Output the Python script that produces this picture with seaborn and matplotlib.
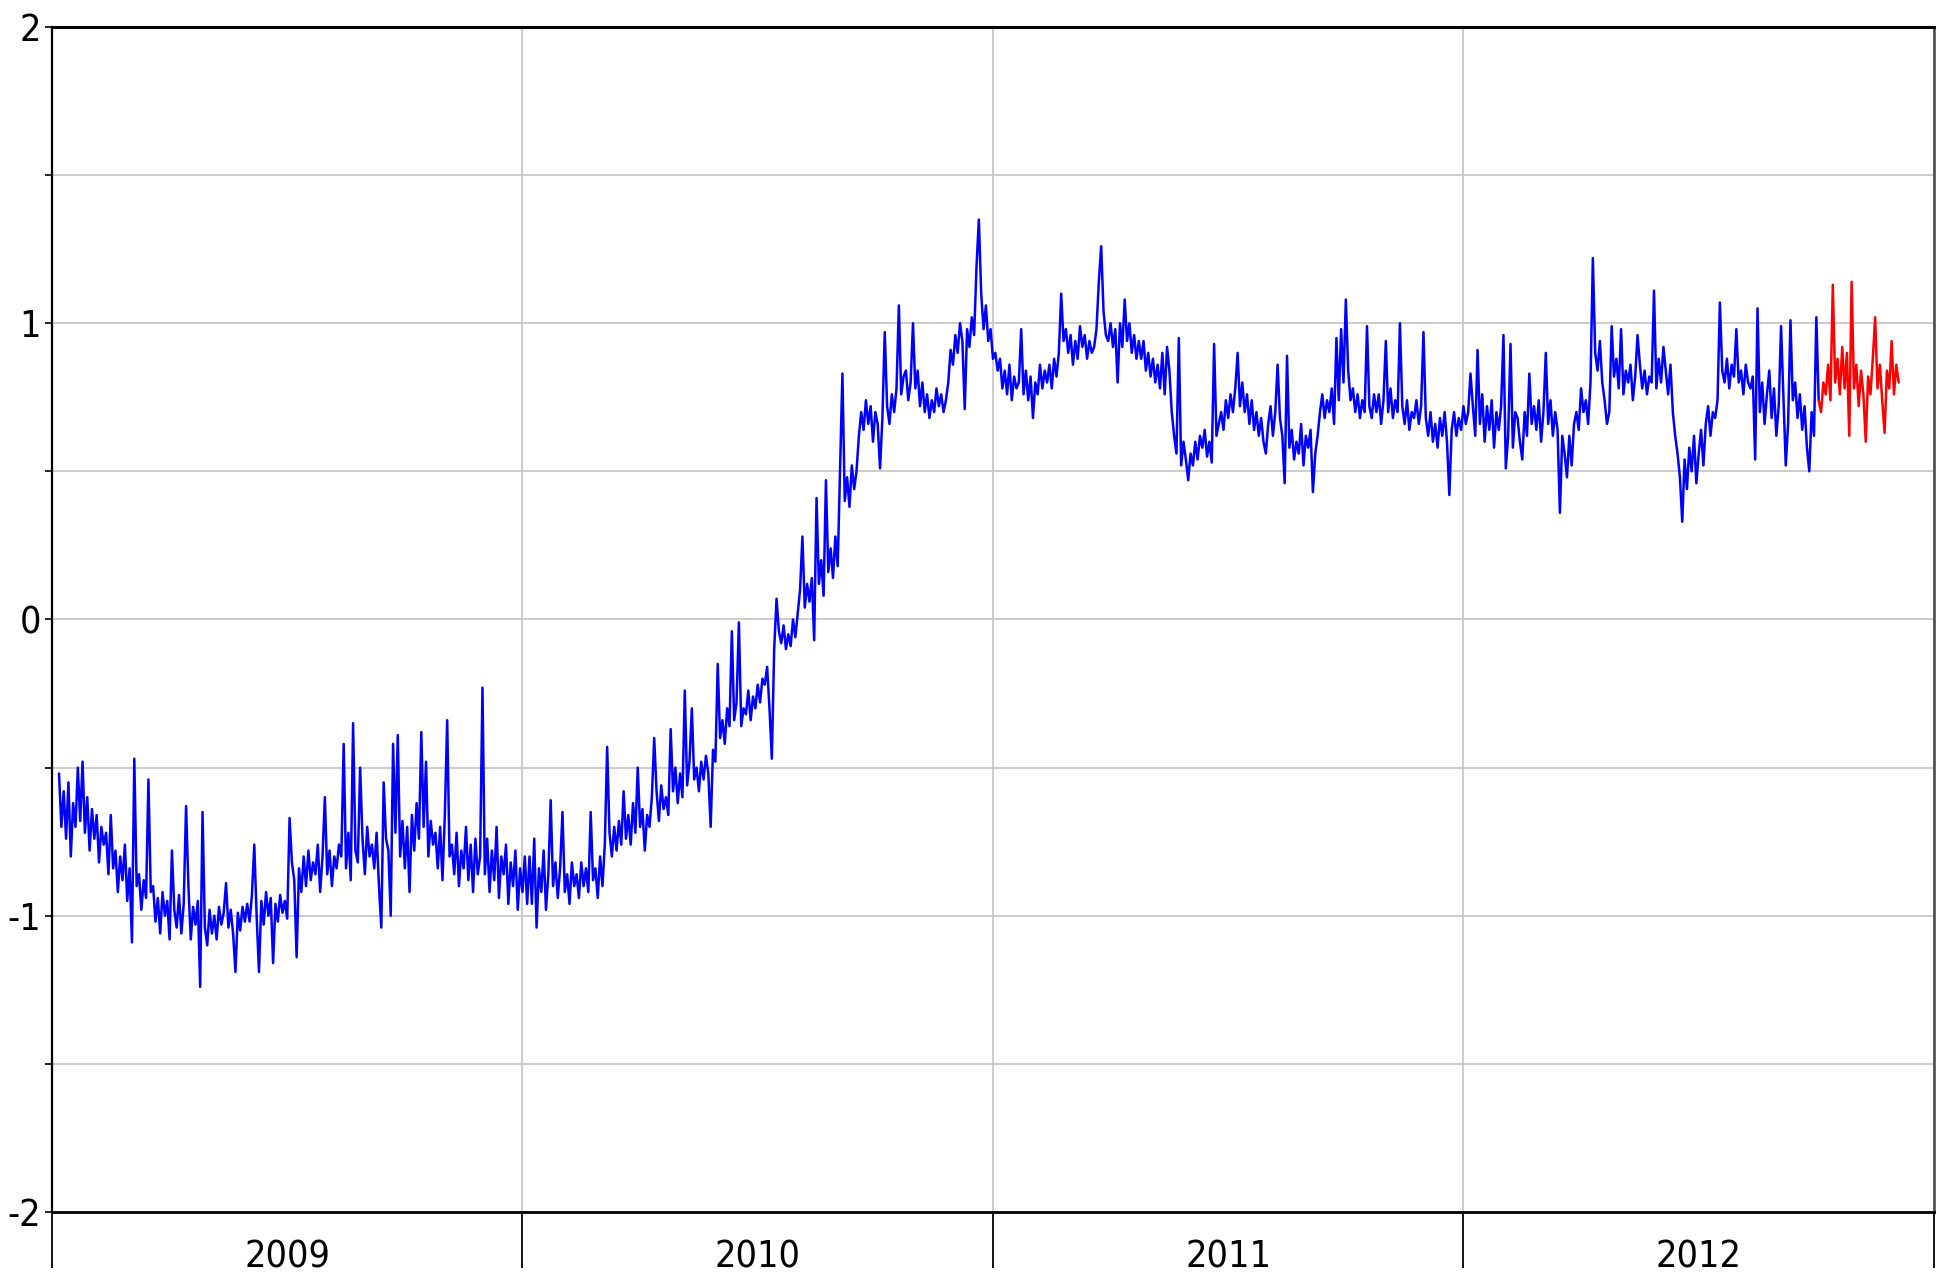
import numpy as np
import pandas as pd
import seaborn as sns
import matplotlib.pyplot as plt
from matplotlib.ticker import MultipleLocator, FixedLocator

# values, one point every 0.005 year
start = 2009.015
step = 0.005

blue_2009 = [
    -0.52, -0.70, -0.58, -0.74, -0.55, -0.80, -0.62, -0.70, -0.50, -0.68, -0.48, -0.72, -0.60, -0.78, -0.64, -0.74, -0.66, -0.82, -0.70, -0.76,
    -0.72, -0.86, -0.66, -0.84, -0.78, -0.92, -0.80, -0.88, -0.76, -0.95, -0.84, -1.09, -0.47, -0.90, -0.86, -0.98, -0.88, -0.94, -0.54, -0.92,
    -0.90, -1.02, -0.94, -1.06, -0.92, -1.00, -0.95, -1.08, -0.78, -0.98, -1.04, -0.93, -1.06, -0.96, -0.63, -0.90, -1.08, -0.97, -1.03, -0.95,
    -1.24, -0.65, -1.04, -1.10, -0.98, -1.06, -1.00, -1.08, -0.97, -1.03, -0.99, -0.89, -1.04, -0.98, -1.06, -1.19, -0.99, -1.05, -0.97, -1.02,
    -0.96, -1.02, -0.93, -0.76, -1.00, -1.19, -0.95, -1.03, -0.92, -1.00, -0.94, -1.16, -0.96, -1.02, -0.93, -0.99, -0.95, -1.01, -0.67, -0.82,
    -0.88, -1.14, -0.84, -0.92, -0.80, -0.90, -0.78, -0.88, -0.82, -0.86, -0.76, -0.92, -0.80, -0.60, -0.86, -0.78, -0.90, -0.80, -0.84, -0.76,
    -0.80, -0.42, -0.84, -0.72, -0.88, -0.35, -0.78, -0.82, -0.50, -0.74, -0.86, -0.70, -0.80, -0.76, -0.84, -0.72, -0.90, -1.04, -0.55, -0.74,
    -0.78, -1.00, -0.42, -0.72, -0.39, -0.80, -0.68, -0.84, -0.70, -0.92, -0.66, -0.78, -0.62, -0.74, -0.38, -0.70, -0.48, -0.80, -0.68, -0.76,
    -0.72, -0.84, -0.70, -0.88, -0.66, -0.34, -0.80, -0.76, -0.86, -0.72, -0.90, -0.78, -0.84, -0.70, -0.88, -0.76, -0.92, -0.74, -0.86, -0.80,
    -0.23, -0.86, -0.74, -0.92, -0.78, -0.88, -0.70, -0.94, -0.80, -0.86, -0.76, -0.96, -0.82, -0.90, -0.78, -0.98, -0.84, -0.92, -0.80, -0.96,
]

blue_2010 = [
    -0.80, -0.96, -0.74, -1.04, -0.84, -0.92, -0.78, -0.98, -0.86, -0.61, -0.90, -0.82, -0.94, -0.84, -0.65, -0.92, -0.86, -0.96, -0.82, -0.90,
    -0.86, -0.94, -0.82, -0.90, -0.84, -0.92, -0.65, -0.88, -0.84, -0.94, -0.80, -0.90, -0.76, -0.43, -0.72, -0.80, -0.70, -0.78, -0.68, -0.76,
    -0.58, -0.74, -0.66, -0.76, -0.62, -0.72, -0.50, -0.70, -0.64, -0.78, -0.66, -0.70, -0.60, -0.40, -0.58, -0.68, -0.56, -0.64, -0.60, -0.66,
    -0.37, -0.58, -0.50, -0.62, -0.52, -0.60, -0.24, -0.56, -0.48, -0.30, -0.54, -0.50, -0.58, -0.48, -0.54, -0.46, -0.52, -0.70, -0.44, -0.48,
    -0.15, -0.40, -0.34, -0.42, -0.30, -0.36, -0.04, -0.34, -0.28, -0.01, -0.36, -0.30, -0.32, -0.24, -0.34, -0.26, -0.30, -0.22, -0.28, -0.20,
    -0.22, -0.16, -0.30, -0.47, -0.10, 0.07, -0.04, -0.08, -0.02, -0.10, -0.05, -0.09, 0.00, -0.06, 0.02, 0.10, 0.28, 0.04, 0.12, 0.06,
    0.14, -0.07, 0.41, 0.12, 0.20, 0.08, 0.47, 0.16, 0.24, 0.14, 0.28, 0.18, 0.51, 0.83, 0.40, 0.48, 0.38, 0.52, 0.44, 0.50,
    0.62, 0.70, 0.64, 0.74, 0.66, 0.72, 0.60, 0.70, 0.66, 0.51, 0.68, 0.97, 0.72, 0.66, 0.76, 0.70, 0.78, 1.06, 0.76, 0.82,
    0.84, 0.74, 0.80, 1.00, 0.78, 0.84, 0.72, 0.80, 0.70, 0.76, 0.68, 0.74, 0.70, 0.78, 0.72, 0.76, 0.70, 0.74, 0.80, 0.91,
    0.86, 0.96, 0.90, 1.00, 0.94, 0.71, 0.98, 0.92, 1.02, 0.96, 1.19, 1.35, 1.10, 0.98, 1.06, 0.94, 0.98, 0.88, 0.90, 0.84,
]

blue_2011 = [
    0.88, 0.78, 0.84, 0.76, 0.86, 0.74, 0.82, 0.78, 0.80, 0.98, 0.76, 0.84, 0.74, 0.82, 0.68, 0.80, 0.76, 0.86, 0.78, 0.84,
    0.80, 0.86, 0.78, 0.88, 0.82, 0.90, 1.10, 0.94, 0.98, 0.90, 0.96, 0.86, 0.94, 0.88, 0.99, 0.92, 0.96, 0.88, 0.94, 0.90,
    0.92, 0.98, 1.14, 1.26, 1.04, 0.96, 0.94, 1.00, 0.92, 0.98, 0.80, 1.00, 0.92, 1.08, 0.94, 1.00, 0.90, 0.96, 0.88, 0.94,
    0.88, 0.94, 0.84, 0.90, 0.82, 0.88, 0.80, 0.86, 0.78, 0.90, 0.76, 0.92, 0.84, 0.70, 0.62, 0.56, 0.95, 0.52, 0.60, 0.54,
    0.47, 0.56, 0.52, 0.60, 0.54, 0.62, 0.58, 0.64, 0.55, 0.60, 0.53, 0.93, 0.62, 0.66, 0.70, 0.64, 0.74, 0.68, 0.76, 0.70,
    0.78, 0.90, 0.72, 0.80, 0.70, 0.76, 0.66, 0.74, 0.64, 0.70, 0.62, 0.68, 0.60, 0.56, 0.66, 0.72, 0.62, 0.70, 0.86, 0.68,
    0.62, 0.46, 0.89, 0.58, 0.64, 0.54, 0.60, 0.56, 0.66, 0.52, 0.62, 0.58, 0.64, 0.43, 0.56, 0.62, 0.70, 0.76, 0.68, 0.74,
    0.70, 0.78, 0.66, 0.95, 0.74, 0.98, 0.80, 1.08, 0.84, 0.74, 0.78, 0.70, 0.76, 0.68, 0.74, 0.70, 0.99, 0.72, 0.68, 0.76,
    0.70, 0.76, 0.66, 0.74, 0.94, 0.70, 0.78, 0.68, 0.74, 0.70, 1.00, 0.72, 0.66, 0.74, 0.64, 0.70, 0.68, 0.74, 0.66, 0.72,
    0.97, 0.68, 0.62, 0.70, 0.60, 0.66, 0.58, 0.68, 0.62, 0.70, 0.60, 0.42, 0.64, 0.70, 0.62, 0.68, 0.64, 0.72, 0.66, 0.70,
]

blue_2012 = [
    0.83, 0.72, 0.62, 0.91, 0.66, 0.76, 0.60, 0.72, 0.64, 0.74, 0.58, 0.70, 0.64, 0.72, 0.96, 0.51, 0.62, 0.93, 0.58, 0.70,
    0.68, 0.60, 0.54, 0.70, 0.62, 0.83, 0.66, 0.72, 0.64, 0.74, 0.60, 0.70, 0.90, 0.66, 0.74, 0.62, 0.70, 0.64, 0.36, 0.62,
    0.56, 0.48, 0.62, 0.52, 0.66, 0.70, 0.64, 0.78, 0.70, 0.74, 0.66, 0.80, 1.22, 0.90, 0.84, 0.94, 0.80, 0.74, 0.66, 0.70,
    0.99, 0.82, 0.88, 0.78, 0.98, 0.76, 0.84, 0.80, 0.86, 0.74, 0.82, 0.96, 0.86, 0.78, 0.84, 0.76, 0.82, 0.80, 1.11, 0.78,
    0.88, 0.80, 0.92, 0.84, 0.76, 0.86, 0.70, 0.62, 0.56, 0.48, 0.33, 0.54, 0.44, 0.58, 0.50, 0.62, 0.46, 0.56, 0.64, 0.52,
    0.66, 0.72, 0.62, 0.70, 0.68, 0.74, 1.07, 0.84, 0.80, 0.88, 0.78, 0.86, 0.82, 0.98, 0.80, 0.84, 0.76, 0.86, 0.80, 0.78,
    0.82, 0.54, 1.05, 0.70, 0.80, 0.66, 0.76, 0.84, 0.68, 0.78, 0.62, 0.72, 0.99, 0.76, 0.52, 0.66, 1.01, 0.74, 0.80, 0.68,
    0.76, 0.64, 0.72, 0.58, 0.50, 0.70, 0.62, 1.02, 0.74,
]

# forecast part, drawn in red, starting at the last blue point
red_values = [
    0.74, 0.70, 0.80, 0.76, 0.86, 0.74, 1.13, 0.80, 0.88, 0.76, 0.92, 0.78, 0.90, 0.62, 1.14, 0.78, 0.86, 0.72,
    0.84, 0.76, 0.60, 0.82, 0.76, 0.88, 1.02, 0.78, 0.86, 0.74, 0.63, 0.84, 0.78, 0.94, 0.76, 0.86, 0.80,
]

years = [2009, 2010, 2011, 2012]

blue_values = blue_2009 + blue_2010 + blue_2011 + blue_2012
blue = pd.DataFrame({'year': start + step * np.arange(len(blue_values)), 'value': blue_values})
red_start = blue['year'].iloc[-1]
red = pd.DataFrame({'year': red_start + step * np.arange(len(red_values)), 'value': red_values})

sns.set_style('white')
plt.rcParams['font.family'] = ['DejaVu Sans']
plt.rcParams['font.stretch'] = 'condensed'
plt.rcParams['text.color'] = 'black'
plt.rcParams['xtick.color'] = 'black'
plt.rcParams['ytick.color'] = 'black'

fig = plt.figure(figsize=(19.39, 12.72), dpi=100)
ax = fig.add_axes([0.0268, 0.0472, 0.9706, 0.9316])

sns.lineplot(data=blue, x='year', y='value', color='#0000ff', linewidth=1.8,
             estimator=None, sort=False, ax=ax)
sns.lineplot(data=red, x='year', y='value', color='#ff0000', linewidth=1.8,
             estimator=None, sort=False, ax=ax)

ax.set_xlim(2009, 2013)
ax.set_ylim(-2, 2)
ax.set_xlabel('')
ax.set_ylabel('')

# y axis: labels on the integers, grid every 0.5
ax.yaxis.set_major_locator(FixedLocator([-2, -1, 0, 1, 2]))
ax.yaxis.set_minor_locator(MultipleLocator(0.5))
ax.set_yticklabels(['-2', '-1', '0', '1', '2'])
ax.tick_params(axis='y', which='both', direction='out', length=5, width=1.2,
               left=True, labelsize=27, pad=3, labelcolor='black')

# x axis: long ticks on year boundaries, labels centred in each year
ax.xaxis.set_major_locator(FixedLocator([2009, 2010, 2011, 2012, 2013]))
ax.xaxis.set_minor_locator(FixedLocator([y + 0.5 for y in years]))
ax.set_xticklabels([], minor=False)
ax.set_xticklabels([str(y) for y in years], minor=True)
ax.tick_params(axis='x', which='major', direction='out', length=40, width=1.3, bottom=True)
ax.tick_params(axis='x', which='minor', length=0, labelsize=27, pad=20, bottom=True,
               labelcolor='black')

ax.grid(axis='y', which='both', color='#c8c8c8', linewidth=1.3)
ax.grid(axis='x', which='major', color='#c8c8c8', linewidth=1.3)
ax.set_axisbelow(True)

for side in ['left', 'bottom', 'top']:
    ax.spines[side].set_color('black')
ax.spines['right'].set_color('#444444')
ax.spines['top'].set_linewidth(2.2)
ax.spines['bottom'].set_linewidth(2.0)
ax.spines['left'].set_linewidth(1.6)
ax.spines['right'].set_linewidth(1.8)

fig.savefig('out.png', dpi=100)
